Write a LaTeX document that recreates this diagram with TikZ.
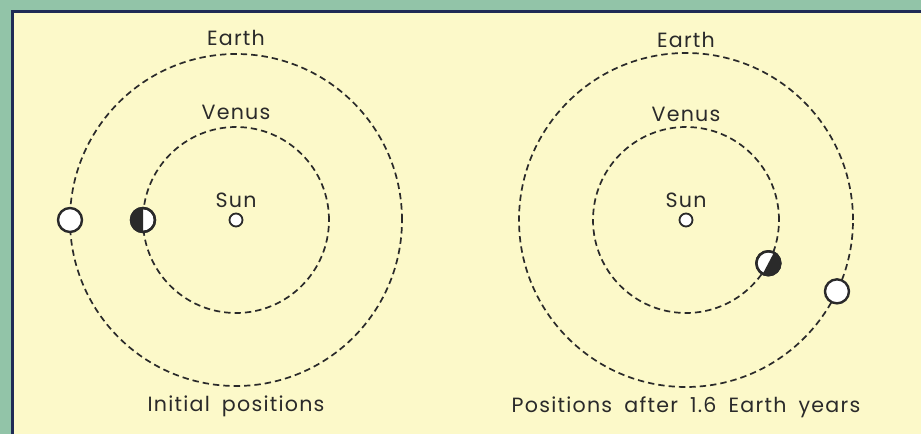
\documentclass[tikz,border=0pt]{standalone}
\usepackage{fontspec}
\setmainfont{Poppins}[LetterSpace=6,WordSpace=1.8]
\usetikzlibrary{positioning,calc}
\definecolor{Sea}{HTML}{92C4A8}
\definecolor{Paper}{HTML}{FCF9C9}
\definecolor{Frame}{HTML}{1F2B55}
\definecolor{Ink}{HTML}{2A2A2A}
\tikzset{
  orbit/.style={draw=Ink,line width=0.85pt,dash pattern=on 3.2pt off 2pt},
  planet/.style={circle,draw=Ink,fill=white,line width=1.2pt,minimum size=12pt,inner sep=0pt},
  sunbody/.style={circle,draw=Ink,fill=white,line width=0.9pt,minimum size=6.5pt,inner sep=0pt},
  tag/.style={font=\fontsize{10.3}{12}\selectfont,text=Ink,inner sep=1pt}
}

\begin{document}
\begin{tikzpicture}[x=0.5pt,y=0.5pt]
  \useasboundingbox (0,0) rectangle (921,434);
  \fill[Sea] (0,0) rectangle (921,434);
  \fill[Paper] (12,0) rectangle (921,422);
  \draw[Frame,line width=1.6pt] (12.5,0) -- (12.5,422.5) -- (921,422.5);

  \node[sunbody] (sunL) at (236,214) {};
  \node[sunbody] (sunR) at (686,214) {};
  \draw[orbit] (sunL) circle[radius=46.5pt];
  \draw[orbit] (sunL) circle[radius=83pt];
  \draw[orbit] (sunR) circle[radius=46.5pt];
  \draw[orbit] (sunR) circle[radius=83.5pt];

  \node[planet] (earthL) at ($(sunL)+(-83pt,0)$) {};
  \node[planet] (venusL) at ($(sunL)+(-46.5pt,0)$) {};
  \fill[Ink] (venusL.center) ++(90:6pt) arc[start angle=90,end angle=270,radius=6pt] -- cycle;
  \node[planet,fill=none] at (venusL) {};

  \node[planet] (earthR) at ($(sunR)+(-25.3:83.5pt)$) {};
  \node[planet] (venusR) at ($(sunR)+(-27.7:46.5pt)$) {};
  \fill[Ink] (venusR.center) ++(62.3:6pt) arc[start angle=62.3,end angle=-117.7,radius=6pt] -- cycle;
  \node[planet,fill=none] at (venusR) {};

  \node[tag,above=1.5pt of sunL] (sunLtag) {Sun};
  \node[tag,above=1.5pt of sunR] (sunRtag) {Sun};
  \node[tag] (venusLtag) at (236,322) {Venus};
  \node[tag] (venusRtag) at (686,320) {Venus};
  \node[tag] (earthLtag) at (236,396) {Earth};
  \node[tag] (earthRtag) at (686,394) {Earth};
  \node[tag] (capL) at (236,28) {Initial positions};
  \node[tag] (capR) at (686,27) {Positions after 1.6 Earth years};
\end{tikzpicture}
\end{document}
